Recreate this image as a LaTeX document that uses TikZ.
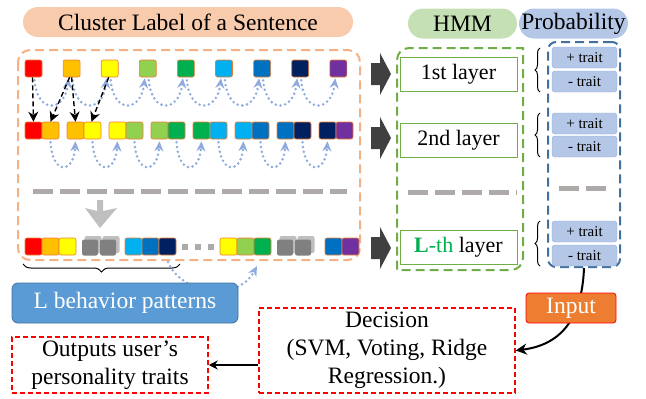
\documentclass[tikz,border=0pt]{standalone}
\usepackage{fontspec}
\setmainfont{Liberation Serif}
\usetikzlibrary{arrows.meta,decorations.pathreplacing}
\definecolor{cR}{HTML}{FF0000}
\definecolor{cO}{HTML}{FFC000}
\definecolor{cY}{HTML}{FFFF00}
\definecolor{cLG}{HTML}{92D050}
\definecolor{cG}{HTML}{00B050}
\definecolor{cC}{HTML}{00B0F0}
\definecolor{cB}{HTML}{0070C0}
\definecolor{cN}{HTML}{002060}
\definecolor{cP}{HTML}{7030A0}
\definecolor{sqborder}{HTML}{ED7D31}
\definecolor{peach}{HTML}{F8CBAD}
\definecolor{odash}{HTML}{F4B183}
\definecolor{hmmfill}{HTML}{C5E0B4}
\definecolor{probfill}{HTML}{B4C7E7}
\definecolor{gdash}{HTML}{70AD47}
\definecolor{bdashc}{HTML}{41719C}
\definecolor{traitborder}{HTML}{8FAADC}
\definecolor{dotblue}{HTML}{8FAADC}
\definecolor{graydash}{HTML}{AEAAAA}
\definecolor{grayarrow}{HTML}{BFBFBF}
\definecolor{darkarrow}{HTML}{404040}
\definecolor{lbpfill}{HTML}{5B9BD5}
\definecolor{inputfill}{HTML}{ED7D31}
\definecolor{tgreen}{HTML}{00B050}
\definecolor{gsqdark}{HTML}{808080}
\definecolor{gsqlight}{HTML}{BFBFBF}
\tikzset{
  big/.style={font=\fontsize{23.5}{28}\selectfont},
  mid/.style={font=\fontsize{22}{28}\selectfont},
  small/.style={font=\fontsize{15}{18}\selectfont},
  sq/.style={draw=sqborder, line width=0.6pt, rounded corners=2pt, minimum size=17pt, inner sep=0pt},
  gsq/.style={fill=gsqdark, rounded corners=2pt, minimum size=16pt, inner sep=0pt},
  gsqs/.style={fill=gsqlight, rounded corners=2pt, minimum size=17pt, inner sep=0pt},
  pill/.style={big, rounded corners=15pt, minimum height=30pt, inner sep=0pt},
  dotarr/.style={dotblue, line width=2.8pt, line cap=round, dash pattern=on 0pt off 4.8pt, -{Stealth[length=10pt,width=9pt]}},
  bdash/.style={black, line width=1.4pt, dash pattern=on 5pt off 3pt, -{Stealth[length=10pt,width=10pt]}},
  layerbox/.style={mid, draw=gdash, line width=1pt, fill=white, minimum width=117pt, minimum height=34pt, inner sep=0pt},
  trait/.style={small, draw=traitborder, fill=probfill, rounded corners=3pt, minimum width=65pt, minimum height=21pt, inner sep=0pt},
  reddash/.style={draw=red, line width=1.5pt, dash pattern=on 5pt off 3pt},
  gline/.style={graydash, line width=5pt, dash pattern=on 20pt off 7pt},
  bigarrow/.style={fill=darkarrow},
  brc/.style={decorate, decoration={brace, amplitude=5pt}, line width=1pt},
}
\begin{document}
\begin{tikzpicture}[x=1pt,y=-1pt]
\useasboundingbox (0,0) rectangle (646,399);

% headers
\node[pill, fill=peach, minimum width=330pt] (hdr) at (188,22) {Cluster Label of a Sentence};
\node[pill, fill=hmmfill, minimum width=109pt] (hmm) at (462.5,23.5) {HMM};
\node[pill, fill=probfill, minimum width=109pt] (prob) at (573.5,23.5) {Probability};

% orange dashed container
\draw[odash, line width=2pt, dash pattern=on 9pt off 5pt, rounded corners=12pt] (18,50) rectangle (360,260);

% row 1
\foreach \c [count=\i] in {cR,cO,cY,cLG,cG,cC,cB,cN,cP}
  \node[sq, fill=\c] (a\i) at ({33.5+38.1*(\i-1)},68.5) {};
% row 2
\foreach \c/\d [count=\k] in {cR/cO,cO/cY,cY/cLG,cLG/cG,cG/cC,cC/cB,cB/cN,cN/cP}{
  \node[sq, fill=\c] (bl\k) at ({33.5+42*(\k-1)},130.5) {};
  \node[sq, fill=\d] (br\k) at ({50.5+42*(\k-1)},130.5) {};
}
% dotted arcs row 1
\foreach \i in {1,...,8}{
  \pgfmathtruncatemacro\j{\i+1}
  \draw[dotarr] ([yshift=-3pt,xshift=1pt]a\i.south) .. controls +(3,34) and +(-4,34) .. ([yshift=-1pt,xshift=-3pt]a\j.south);
}
% dotted arcs row 2
\foreach \k in {1,...,7}{
  \pgfmathtruncatemacro\m{\k+1}
  \draw[dotarr] ([yshift=-3pt]br\k.south) .. controls +(2,33) and +(-2,33) .. ([yshift=-2pt]bl\m.south);
}
% black dashed arrows
\draw[bdash] ([xshift=-1pt]a1.south) -- (bl1.north);
\draw[bdash] ([xshift=-2pt]a2.south) -- ([xshift=0pt]br1.north);
\draw[bdash] ([xshift=0pt]a2.south) -- (bl2.north);
\draw[bdash] ([xshift=-1pt]a3.south) -- ([xshift=-1pt]br2.north);

% gray dashed line in orange box
\draw[gline] (33,191) -- (347,191);
% gray down arrow
\fill[grayarrow] (97,200) -- (103,200) -- (103,211) -- (117,208) -- (100,228) -- (85,208) -- (97,211) -- cycle;

% row L
\foreach \c/\x [count=\i] in {cR/33.5,cO/50.5,cY/67.5,cC/133.5,cB/150.5,cN/167.5,cY/228.5,cLG/245.5,cG/262.5,cB/333.5,cP/350.5}
  \node[sq, fill=\c] (l\i) at (\x,246.5) {};
\foreach \x [count=\i] in {91,109,286,304}{
  \node[gsqs] (gs\i) at (\x+2,244.5) {};
  \node[gsq] (g\i) at (\x-1,247.5) {};
}
\foreach \x [count=\i] in {185,198,211}
  \fill[graydash] (\x-3,244) rectangle (\x+3,250);

% brace under row L
\draw[brc, decoration={brace, amplitude=8pt}] (180,264) -- (23,264);
\coordinate (bp) at (168,262);
\coordinate (pe) at (257,266);
\draw[dotarr] (bp) .. controls (182,295) and (238,302) .. (pe);

% L behavior patterns
\node[big, text=white, fill=lbpfill, draw=bdashc, line width=0.8pt, rounded corners=6pt, minimum width=226pt, minimum height=40pt, inner sep=0pt] (lbp) at (125,303) {L behavior patterns};

% big dark arrows
\foreach \y in {74,138,248}
  \fill[bigarrow] (371,\y-11) -- (380,\y-11) -- (380,\y-21) -- (391,\y) -- (380,\y+21) -- (380,\y+11) -- (371,\y+11) -- cycle;

% green dashed container
\draw[gdash, line width=2pt, dash pattern=on 9pt off 5pt] (460,48) -- (523,48) -- (523,160) {[rounded corners=12pt] -- (523,270) -- (460,270)} -- (397,270) -- (397,160) {[rounded corners=12pt] -- (397,48) -- (460,48)};

\node[layerbox] (l1) at (458.5,74) {1st layer};
\node[layerbox] (l2) at (458.5,140) {2nd layer};
\node[layerbox] (lL) at (458.5,247) {{\color{tgreen}\textbf{L}-th} layer};
\draw[gline] (408,192) -- (517,192);

% probability container
\node[draw=bdashc, line width=2pt, dash pattern=on 9pt off 5pt, rounded corners=8pt, minimum width=72pt, minimum height=225pt, inner sep=0pt] (pbox) at (584,154.5) {};
\node[trait] (p1) at (584.5,57.5) {+ trait};
\node[trait] (m1) at (584.5,81.5) {- trait};
\node[trait] (p2) at (584.5,123.5) {+ trait};
\node[trait] (m2) at (584.5,146.5) {- trait};
\node[trait] (p3) at (584.5,231.5) {+ trait};
\node[trait] (m3) at (584.5,255.5) {- trait};
\draw[brc] (540,92) -- (540,48);
\draw[brc] (540,157) -- (540,113);
\draw[brc] (540,266) -- (540,221);
\draw[gline] (559,188) -- (606,188);

% decision & outputs
\node[reddash, big, align=center, minimum width=256pt, minimum height=85pt, inner sep=0pt] (dec) at (387,350.5) {Decision\\(SVM, Voting, Ridge\\Regression.)};
\node[reddash, big, align=center, minimum width=196pt, minimum height=56pt, inner sep=0pt] (out) at (110,365) {Outputs user’s\\personality traits};
\draw[black, line width=1.5pt, -{Stealth[length=9pt,width=9pt]}] (out.east -| dec.west) -- (out.east);

\draw[black, line width=2pt, -{Stealth[length=11pt,width=11pt]}] (pbox.south) .. controls (582,320) and (560,345) .. (dec.east);
\node[big, text=white, fill=inputfill, draw=red, line width=0.8pt, rounded corners=3pt, minimum width=90pt, minimum height=30pt, inner sep=0pt] (inp) at (571,308) {Input};
\end{tikzpicture}
\end{document}
